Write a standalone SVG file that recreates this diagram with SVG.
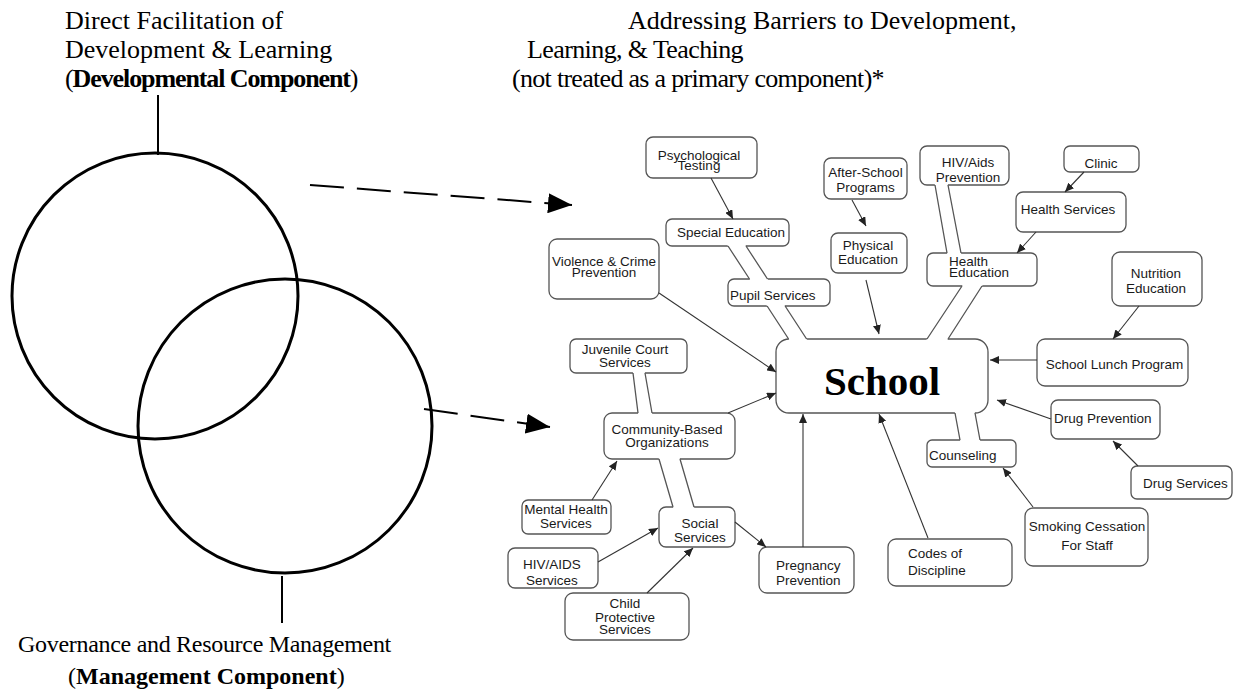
<svg xmlns="http://www.w3.org/2000/svg" width="1236" height="696" viewBox="0 0 1236 696">
<style>
.hd{font-family:"Liberation Serif","Times New Roman",serif;font-size:26px;fill:#000}
.hs{font-family:"Liberation Serif","Times New Roman",serif;font-size:24px;fill:#000}
.b{font-weight:bold}
.box{fill:#fff;stroke:#555;stroke-width:1.3}
.t{font-family:"Liberation Sans",Arial,sans-serif;font-size:13.5px;fill:#1a1a1a}
.c{text-anchor:middle}
.ar{fill:none;stroke:#333;stroke-width:1.1;marker-end:url(#ah)}
.pf{fill:#fff;stroke:none}
.pl{fill:none;stroke:#555;stroke-width:1.3}
.circ{fill:none;stroke:#000;stroke-width:3}
.dash{fill:none;stroke:#000;stroke-width:2;stroke-dasharray:34 13;marker-end:url(#big)}
</style>
<defs>
<marker id="ah" markerUnits="userSpaceOnUse" markerWidth="9" markerHeight="8" refX="9" refY="4" orient="auto"><path d="M0,0 L9,4 L0,8 z" fill="#222"/></marker>
<marker id="big" markerUnits="userSpaceOnUse" markerWidth="24" markerHeight="20" refX="24" refY="10" orient="auto"><path d="M0,0 L24,10 L0,20 z" fill="#000"/></marker>
</defs>
<rect width="1236" height="696" fill="#fff"/>

<g id="developmental">
<text class="hd" x="65" y="29">Direct Facilitation of</text>
<text class="hd" x="65" y="58">Development &amp; Learning</text>
<text class="hd" x="65" y="87" letter-spacing="-1.1">(<tspan class="b">Developmental Component</tspan>)</text>
<line x1="158" y1="95" x2="158" y2="155" stroke="#000" stroke-width="2"/>
<circle class="circ" cx="155" cy="296" r="143"/>
</g>
<g id="management">
<circle class="circ" cx="285" cy="426" r="147"/>
<line x1="282" y1="576" x2="282" y2="623" stroke="#000" stroke-width="2"/>
<text class="hs" x="18" y="652" letter-spacing="-0.3">Governance and Resource Management</text>
<text class="hs" x="68" y="684">(<tspan class="b">Management Component</tspan>)</text>
</g>
<g id="barriers-heading">
<text class="hd" x="628" y="29">Addressing Barriers to Development,</text>
<text class="hd" x="527" y="58" letter-spacing="-0.6">Learning, &amp; Teaching</text>
<text class="hd" x="512" y="87" letter-spacing="-0.7">(not treated as a primary component)*</text>
</g>

<g id="school"><rect class="box" x="776" y="339" width="212" height="74" rx="13"/><text x="882" y="395" text-anchor="middle" font-family="Liberation Serif, Times New Roman, serif" font-weight="bold" font-size="41" fill="#000">School</text></g>
<g id="psych"><rect class="box" x="646" y="137" width="111" height="41" rx="7"/><text class="t c" x="699" y="160">Psychological</text><text class="t c" x="699" y="170">Testing</text></g>
<g id="special-ed"><rect class="box" x="666" y="219" width="123" height="27" rx="6"/><text class="t c" x="731" y="237">Special Education</text></g>
<g id="violence"><rect class="box" x="549" y="239" width="110" height="60" rx="8"/><text class="t c" x="604" y="266">Violence &amp; Crime</text><text class="t c" x="604" y="277">Prevention</text></g>
<g id="pupil"><rect class="box" x="728" y="279" width="102" height="27" rx="6"/><text class="t" x="730" y="300">Pupil Services</text></g>
<g id="after-school"><rect class="box" x="824" y="158" width="83" height="41" rx="7"/><text class="t c" x="865.5" y="177">After-School</text><text class="t c" x="865.5" y="192">Programs</text></g>
<g id="physical"><rect class="box" x="831" y="233" width="76" height="40" rx="7"/><text class="t c" x="868" y="250">Physical</text><text class="t c" x="868" y="264">Education</text></g>
<g id="hiv-prev"><rect class="box" x="920" y="146" width="89" height="39" rx="7"/><text class="t c" x="968" y="167">HIV/Aids</text><text class="t c" x="968" y="182">Prevention</text></g>
<g id="clinic"><rect class="box" x="1064" y="146" width="75" height="26" rx="6"/><text class="t c" x="1101" y="168">Clinic</text></g>
<g id="health-services"><rect class="box" x="1016" y="192" width="110" height="40" rx="7"/><text class="t c" x="1068" y="214">Health Services</text></g>
<g id="health-ed"><rect class="box" x="927" y="253" width="110" height="33" rx="6"/><text class="t" x="949" y="266">Health</text><text class="t" x="949" y="277">Education</text></g>
<g id="nutrition"><rect class="box" x="1112" y="252" width="90" height="54" rx="8"/><text class="t c" x="1156" y="278">Nutrition</text><text class="t c" x="1156" y="293">Education</text></g>
<g id="lunch"><rect class="box" x="1037" y="339" width="151" height="47" rx="8"/><text class="t c" x="1114.5" y="369">School Lunch Program</text></g>
<g id="drug-prev"><rect class="box" x="1051" y="400" width="109" height="39" rx="7"/><text class="t" x="1054" y="423">Drug Prevention</text></g>
<g id="drug-services"><rect class="box" x="1131" y="466" width="101" height="33" rx="6"/><text class="t" x="1143" y="488">Drug Services</text></g>
<g id="counseling"><rect class="box" x="927" y="440" width="89" height="27" rx="5"/><text class="t" x="929" y="460">Counseling</text></g>
<g id="smoking"><rect class="box" x="1025" y="508" width="123" height="58" rx="8"/><text class="t c" x="1087" y="531">Smoking Cessation</text><text class="t c" x="1087" y="550">For Staff</text></g>
<g id="codes"><rect class="box" x="888" y="539" width="124" height="47" rx="8"/><text class="t" x="908" y="558">Codes of</text><text class="t" x="908" y="575">Discipline</text></g>
<g id="pregnancy"><rect class="box" x="759" y="547" width="95" height="46" rx="8"/><text class="t" x="776" y="570">Pregnancy</text><text class="t" x="776" y="585">Prevention</text></g>
<g id="social"><rect class="box" x="659" y="507" width="76" height="40" rx="7"/><text class="t c" x="700" y="528">Social</text><text class="t c" x="700" y="542">Services</text></g>
<g id="community"><rect class="box" x="604" y="413" width="131" height="46" rx="8"/><text class="t c" x="667" y="434">Community-Based</text><text class="t c" x="667" y="447">Organizations</text></g>
<g id="juvenile"><rect class="box" x="570" y="339" width="117" height="34" rx="6"/><text class="t c" x="625" y="354">Juvenile Court</text><text class="t c" x="625" y="367">Services</text></g>
<g id="mental-health"><rect class="box" x="522" y="500" width="89" height="34" rx="6"/><text class="t c" x="566" y="514">Mental Health</text><text class="t c" x="566" y="528">Services</text></g>
<g id="hiv-services"><rect class="box" x="508" y="548" width="90" height="40" rx="7"/><text class="t c" x="552" y="569">HIV/AIDS</text><text class="t c" x="552" y="585">Services</text></g>
<g id="child"><rect class="box" x="565" y="593" width="124" height="47" rx="8"/><text class="t c" x="625" y="608">Child</text><text class="t c" x="625" y="622">Protective</text><text class="t c" x="625" y="634">Services</text></g>

<g id="connectors">
<path class="dash" d="M310,185 L572,205"/>
<path class="dash" d="M424,409 L550,427"/>

<polygon class="pf" points="726.7,244 744.7,244 768.8,281 750.8,281"/>
<path class="pl" d="M728,246 L749.5,279 M746,246 L767.5,279"/>
<polygon class="pf" points="765.8,304 783.8,304 807.9,341 789.9,341"/>
<path class="pl" d="M767.1,306 L788.6,339 M785.1,306 L806.6,339"/>
<polygon class="pf" points="934.6,183 947.6,183 961.4,255 947.4,255"/>
<path class="pl" d="M935,185 L947,253 M948,185 L961,253"/>
<polygon class="pf" points="963.3,284 983.3,284 946.7,341 925.7,341"/>
<path class="pl" d="M962,286 L927,339 M982,286 L948,339"/>
<polygon class="pf" points="954.6,411 974.6,411 980.4,442 960.4,442"/>
<path class="pl" d="M955,413 L960,440 M975,413 L980,440"/>
<polygon class="pf" points="632.75,371 644.65,371 652.35,415 638.25,415"/>
<path class="pl" d="M633,373 L638,413 M645,373 L652,413"/>
<polygon class="pf" points="658.4,457 679.4,457 694.6,509 673.6,509"/>
<path class="pl" d="M659,459 L673,507 M680,459 L694,507"/>

<path class="ar" d="M711,178 L733,219"/>
<path class="ar" d="M852,200 L866,226"/>
<path class="ar" d="M866,280 L879,334"/>
<path class="ar" d="M1084,172 L1065,192"/>
<path class="ar" d="M1036,232 L1017,253"/>
<path class="ar" d="M1139,306 L1113,339"/>
<path class="ar" d="M1037,360 L990,360"/>
<path class="ar" d="M1051,419 L997,400"/>
<path class="ar" d="M1138,466 L1113,441"/>
<path class="ar" d="M1033,507 L1003,468"/>
<path class="ar" d="M928,538 L879,414"/>
<path class="ar" d="M803,547 L803,414"/>
<path class="ar" d="M659,293 L776,372"/>
<path class="ar" d="M728,413 L776,393"/>
<path class="ar" d="M592,500 L617,461"/>
<path class="ar" d="M598,562 L658,528"/>
<path class="ar" d="M647,593 L693,548"/>
<path class="ar" d="M735,522 L766,547"/>
</g>
</svg>
